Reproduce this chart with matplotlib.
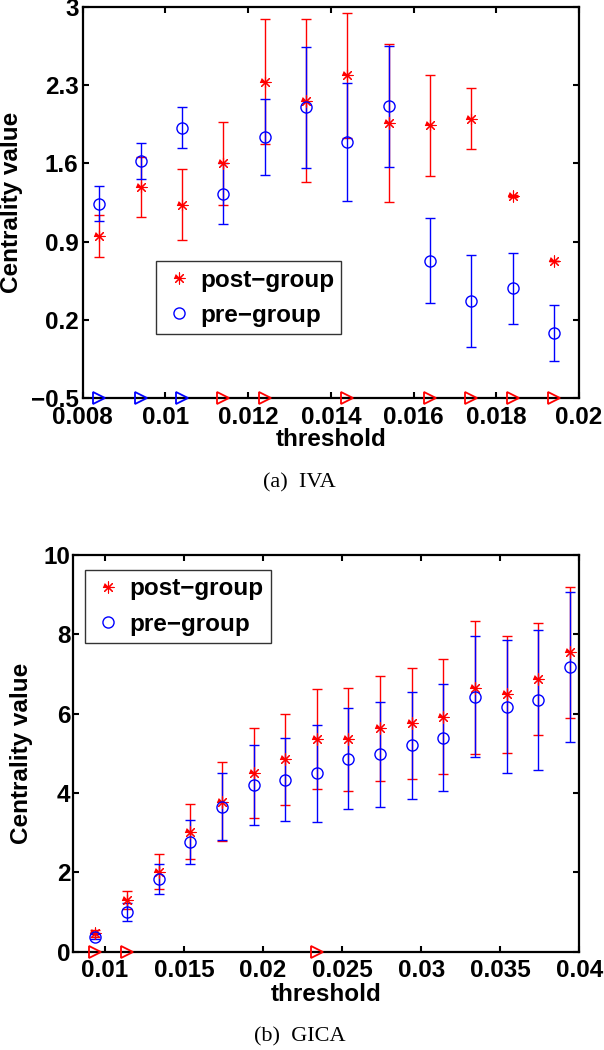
"""Centrality value vs threshold, (a) IVA and (b) GICA, post-group vs pre-group."""

import numpy as np
import matplotlib
matplotlib.use("Agg")
import matplotlib.pyplot as plt
from matplotlib.lines import Line2D
from matplotlib.ticker import FuncFormatter

# --- (a) IVA ---
iva_thr = [0.0084, 0.0094, 0.0104, 0.0114, 0.0124, 0.0134,
           0.0144, 0.0154, 0.0164, 0.0174, 0.0184, 0.0194]
iva_post = [0.95, 1.39, 1.23, 1.60, 2.33, 2.16, 2.39, 1.96, 1.94, 2.00, 1.31, 0.73]
iva_post_err = [0.19, 0.27, 0.32, 0.37, 0.56, 0.73, 0.56, 0.71, 0.45, 0.27, 0.01, 0.0]
iva_pre = [1.24, 1.62, 1.92, 1.33, 1.84, 2.10, 1.79, 2.11, 0.73, 0.37, 0.48, 0.085]
iva_pre_err = [0.16, 0.16, 0.18, 0.27, 0.34, 0.54, 0.53, 0.54, 0.38, 0.41, 0.32, 0.25]
iva_post_sig = [0.0114, 0.0124, 0.0144, 0.0164, 0.0174, 0.0184, 0.0194]
iva_pre_sig = [0.0084, 0.0094, 0.0104]

# --- (b) GICA ---
gica_thr = [0.0094, 0.0114, 0.0134, 0.0154, 0.0174, 0.0194, 0.0214, 0.0234,
            0.0254, 0.0274, 0.0294, 0.0314, 0.0334, 0.0354, 0.0374, 0.0394]
gica_post = [0.46, 1.30, 2.02, 3.03, 3.78, 4.51, 4.85, 5.36,
             5.35, 5.63, 5.76, 5.92, 6.66, 6.49, 6.87, 7.55]
gica_post_err = [0.08, 0.22, 0.45, 0.70, 0.99, 1.13, 1.15, 1.27,
                 1.31, 1.32, 1.40, 1.45, 1.67, 1.48, 1.41, 1.65]
gica_pre = [0.38, 1.01, 1.83, 2.77, 3.66, 4.20, 4.34, 4.50,
            4.87, 4.98, 5.20, 5.40, 6.43, 6.18, 6.34, 7.18]
gica_pre_err = [0.07, 0.23, 0.37, 0.56, 0.84, 1.00, 1.05, 1.22,
                1.28, 1.32, 1.34, 1.35, 1.53, 1.67, 1.77, 1.90]
gica_post_sig = [0.0094, 0.0114, 0.0234]
gica_pre_sig = []

SANS = "Liberation Sans"
SERIF = "Liberation Serif"
FS = 17.5

# MATLAB-like asterisk (matplotlib "*" is a filled star)
ASTER = [(-1, 0), (1, 0), (0, 0), (0, 1), (0, -1), (0, 0),
         (0.7, 0.7), (-0.7, -0.7), (0, 0), (0.7, -0.7), (-0.7, 0.7)]


def fmt(v, _pos):
    return ("%g" % round(v, 4)).replace("-", "\u2212")


def draw(ax, thr, post, post_err, pre, pre_err, post_sig, pre_sig, ylim):
    ax.errorbar(thr, post, yerr=post_err, fmt="none", ecolor="red",
                elinewidth=1.0, capsize=3.6, capthick=1.0, zorder=2)
    ax.errorbar(thr, pre, yerr=pre_err, fmt="none", ecolor="blue",
                elinewidth=1.0, capsize=3.6, capthick=1.0, zorder=3)
    ax.plot(thr, post, linestyle="none", marker=ASTER, markersize=8,
            color="red", markeredgewidth=0.8, zorder=4)
    ax.plot(thr, pre, linestyle="none", marker="o", markersize=8,
            markerfacecolor="none", markeredgecolor="blue", markeredgewidth=1.0, zorder=4)
    ax.plot(post_sig, [ylim[0]] * len(post_sig), linestyle="none", marker=">",
            markersize=9, markerfacecolor="none", markeredgecolor="red",
            markeredgewidth=1.3, clip_on=False, zorder=6)
    ax.plot(pre_sig, [ylim[0]] * len(pre_sig), linestyle="none", marker=">",
            markersize=9, markerfacecolor="none", markeredgecolor="blue",
            markeredgewidth=1.3, clip_on=False, zorder=6)
    ax.set_ylim(*ylim)
    for s in ax.spines.values():
        s.set_linewidth(1.6)
    ax.tick_params(direction="in", length=4, width=1.5, top=True, right=True,
                   labelsize=FS)
    ax.xaxis.set_major_formatter(FuncFormatter(fmt))
    ax.yaxis.set_major_formatter(FuncFormatter(fmt))
    ax.set_xlabel("threshold", fontsize=FS, fontweight="bold", family=SANS)
    ax.set_ylabel("Centrality value", fontsize=FS, fontweight="bold", family=SANS)


def legend(ax, **kw):
    handles = [
        Line2D([], [], linestyle="none", marker=ASTER, markersize=8, color="red",
               markeredgewidth=0.8, label="post\u2212group"),
        Line2D([], [], linestyle="none", marker="o", markersize=8,
               markerfacecolor="none", markeredgecolor="blue", label="pre\u2212group"),
    ]
    leg = ax.legend(handles=handles, fancybox=False, framealpha=1,
                    edgecolor="0.2", handlelength=1.3, handletextpad=0.22,
                    labelspacing=0.5, borderpad=0.3, borderaxespad=0,
                    prop={"family": SANS, "weight": "bold", "size": FS}, **kw)
    leg.get_frame().set_linewidth(1.0)
    return leg


fig = plt.figure(figsize=(6.04, 10.5), dpi=100)
ax1 = fig.add_axes([0.1369, 0.6210, 0.8217, 0.3724])
ax2 = fig.add_axes([0.1214, 0.0936, 0.8377, 0.3778])

draw(ax1, iva_thr, iva_post, iva_post_err, iva_pre, iva_pre_err,
     iva_post_sig, iva_pre_sig, (-0.5, 3))
ax1.set_xlim(0.008, 0.02)
ax1.set_xticks(np.arange(0.008, 0.0201, 0.002))
ax1.set_yticks([-0.5, 0.2, 0.9, 1.6, 2.3, 3])
ax1.tick_params(axis="x", pad=6)
ax1.tick_params(axis="y", pad=3)
legend(ax1, loc="lower left", bbox_to_anchor=(0.147, 0.163))

draw(ax2, gica_thr, gica_post, gica_post_err, gica_pre, gica_pre_err,
     gica_post_sig, gica_pre_sig, (0, 10))
ax2.set_xlim(0.008, 0.04)
ax2.set_xticks([0.01, 0.015, 0.02, 0.025, 0.03, 0.035, 0.04])
ax2.set_yticks([0, 2, 4, 6, 8, 10])
ax2.tick_params(axis="x", pad=5)
ax2.tick_params(axis="y", pad=2)
legend(ax2, loc="upper left", bbox_to_anchor=(0.023, 0.962))

for ax in (ax1, ax2):
    for lab in ax.get_xticklabels() + ax.get_yticklabels():
        lab.set_fontweight("bold")
        lab.set_fontfamily(SANS)

ax1.xaxis.set_label_coords(0.5, -0.077)
ax1.yaxis.set_label_coords(-0.121, 0.5)
ax2.xaxis.set_label_coords(0.5, -0.079)
ax2.yaxis.set_label_coords(-0.080, 0.5)

fig.text(0.495, 1 - 483 / 1050, "(a)  IVA", family=SERIF, fontsize=16,
         ha="center", va="center")
fig.text(0.497, 1 - 1037 / 1050, "(b)  GICA", family=SERIF, fontsize=16,
         ha="center", va="center")

fig.savefig("out.png", dpi=100)
